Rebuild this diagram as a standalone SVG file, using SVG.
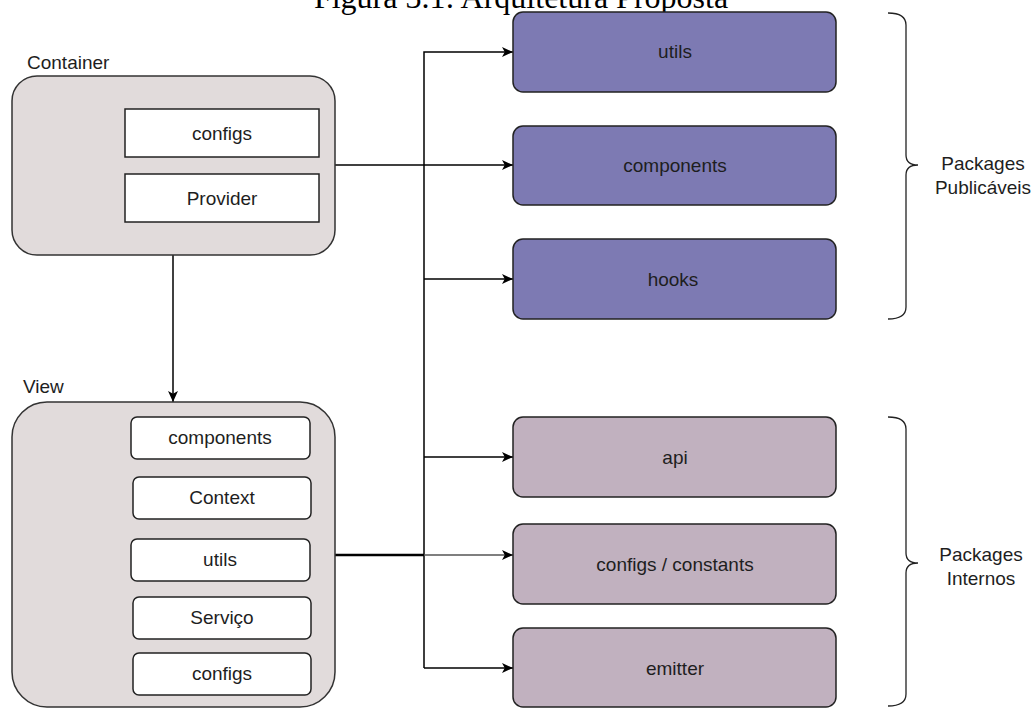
<svg xmlns="http://www.w3.org/2000/svg" width="1035" height="708" viewBox="0 0 1035 708">
<defs>
<marker id="arr" viewBox="0 0 10 10" refX="10" refY="5" markerWidth="11" markerHeight="11" markerUnits="userSpaceOnUse" orient="auto">
<path d="M0,0.5 L10,5 L0,9.5 L2.5,5 Z" fill="#000"/>
</marker>
<style>
.t{font-family:"Liberation Sans",Arial,sans-serif;font-size:19px;fill:#1e1e1e;text-anchor:middle}
.lbl{font-family:"Liberation Sans",Arial,sans-serif;font-size:19px;fill:#1e1e1e}
.outer{fill:#e1dbdb;stroke:#333;stroke-width:1.5}
.inner{fill:#fff;stroke:#222;stroke-width:1.5}
.pub{fill:#7d7ab3;stroke:#222;stroke-width:1.5}
.int{fill:#c1b1bf;stroke:#222;stroke-width:1.5}
.c{fill:none;stroke:#000;stroke-width:1.5}
.br{fill:none;stroke:#222;stroke-width:1.3}
</style>
</defs>
<rect width="1035" height="708" fill="#fff"/>
<text x="521" y="8" font-family="Liberation Serif,'Times New Roman',serif" font-size="32" text-anchor="middle" fill="#000">Figura 3.1: Arquitetura Proposta</text>

<g id="connectors">
<path class="c" d="M424,668 L424,52 L513,52" marker-end="url(#arr)"/>
<path class="c" d="M335,165 L513,165" marker-end="url(#arr)"/>
<path class="c" d="M424,279 L513,279" marker-end="url(#arr)"/>
<path class="c" d="M424,457 L513,457" marker-end="url(#arr)"/>
<path class="c" d="M424,668 L513,668" marker-end="url(#arr)"/>
<path d="M335,555 L424,555" fill="none" stroke="#000" stroke-width="2.5"/>
<path d="M424,555 L513,555" fill="none" stroke="#555" stroke-width="1.5" marker-end="url(#arr)"/>
<path class="c" d="M173,255 L173,402" marker-end="url(#arr)"/>
</g>

<g id="container">
<text class="lbl" x="27" y="69">Container</text>
<rect class="outer" x="12" y="76" width="323" height="179" rx="25"/>
<g id="container-configs"><rect class="inner" x="125" y="109" width="194" height="48"/><text class="t" x="222" y="140">configs</text></g>
<g id="container-provider"><rect class="inner" x="125" y="174" width="194" height="48"/><text class="t" x="222" y="205">Provider</text></g>
</g>

<g id="view">
<text class="lbl" x="23" y="393">View</text>
<rect class="outer" x="12" y="402" width="323" height="305" rx="35"/>
<g id="view-components"><rect class="inner" x="131" y="417" width="179" height="42" rx="6"/><text class="t" x="220" y="444">components</text></g>
<g id="view-context"><rect class="inner" x="133" y="477" width="178" height="42" rx="6"/><text class="t" x="222" y="504">Context</text></g>
<g id="view-utils"><rect class="inner" x="131" y="539" width="179" height="42" rx="6"/><text class="t" x="220" y="566">utils</text></g>
<g id="view-servico"><rect class="inner" x="133" y="597" width="178" height="42" rx="6"/><text class="t" x="222" y="624">Serviço</text></g>
<g id="view-configs"><rect class="inner" x="133" y="653" width="178" height="42" rx="6"/><text class="t" x="222" y="680">configs</text></g>
</g>

<g id="pkg-utils"><rect class="pub" x="513" y="12" width="323" height="80" rx="10"/><text class="t" x="675" y="58">utils</text></g>
<g id="pkg-components"><rect class="pub" x="513" y="126" width="323" height="79" rx="10"/><text class="t" x="675" y="172">components</text></g>
<g id="pkg-hooks"><rect class="pub" x="513" y="239" width="323" height="80" rx="10"/><text class="t" x="673" y="286">hooks</text></g>

<g id="pkg-api"><rect class="int" x="513" y="417" width="323" height="80" rx="10"/><text class="t" x="675" y="464">api</text></g>
<g id="pkg-configs"><rect class="int" x="513" y="524" width="323" height="80" rx="10"/><text class="t" x="675" y="571">configs / constants</text></g>
<g id="pkg-emitter"><rect class="int" x="513" y="628" width="323" height="79" rx="10"/><text class="t" x="675" y="675">emitter</text></g>

<g id="brace-pub">
<path class="br" d="M888,13 Q906,13 906,25 L906,155 Q906,165 918,165 Q906,165 906,175 L906,307 Q906,319 888,319"/>
<text class="t" x="983" y="170">Packages</text>
<text class="t" x="983" y="194">Publicáveis</text>
</g>
<g id="brace-int">
<path class="br" d="M888,417 Q906,417 906,429 L906,553 Q906,563 918,563 Q906,563 906,573 L906,694 Q906,706 888,706"/>
<text class="t" x="981" y="561">Packages</text>
<text class="t" x="981" y="585">Internos</text>
</g>
</svg>
